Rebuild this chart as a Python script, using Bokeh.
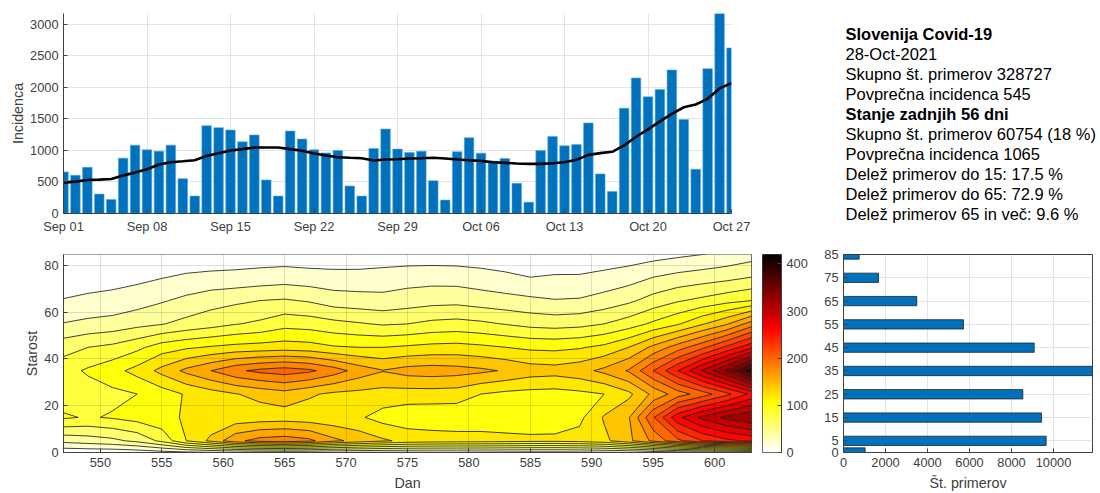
import numpy as np
from bokeh.plotting import figure
from bokeh.layouts import column, row
from bokeh.models import Range1d, FixedTicker, Label, LinearColorMapper
from bokeh.embed import file_html
from bokeh.resources import INLINE

# ---- daily incidence (Sep 01 .. Oct 27)
incidence = [658,605,733,308,223,876,1083,1009,988,1083,552,276,1391,1360,1322,1136,1243,531,276,1306,
             1179,1009,960,998,435,276,1030,1338,1020,966,988,520,212,977,1200,956,830,871,478,180,
             998,1221,1073,1094,1434,627,350,1667,2146,1848,1965,2273,1487,701,2294,3250,2623]
smooth = [489,505,531,536,547,600,648,701,775,813,828,844,913,956,998,1020,1046,1046,1046,1020,
          993,950,919,892,882,876,839,855,860,871,876,882,871,855,844,834,813,802,791,786,
          786,797,813,850,929,956,977,1078,1216,1333,1460,1577,1683,1726,1816,1981,2066]
date_ticks = [0,7,14,21,28,35,42,49,56]
date_labels = ["Sep 01","Sep 08","Sep 15","Sep 22","Sep 29","Oct 06","Oct 13","Oct 20","Oct 27"]

# ---- age x day matrix
days = [547,549,551,553,555,557,559,561,563,565,567,569,571,573,575,577,579,581,583,585,587,589,591,593,595,597,599,601,603]
ages = [0,5,15,25,35,45,55,65,75,85]
z_age0  = [5,6,6,8,12,15,18,20,22,23,22,20,18,17,17,17,17,16,15,14,14,15,17,20,25,30,33,36,40]
z_age5  = [46,50,55,65,85,120,145,175,188,192,185,165,153,143,135,132,130,130,128,126,125,128,135,155,185,215,240,255,265]
z_age15 = [103,98,102,108,115,122,125,127,129,130,128,126,123,112,106,105,105,105,104,104,108,115,142,158,218,275,305,325,338]
z_age25 = [88,90,95,100,110,122,131,139,146,152,143,136,134,132,131,131,130,120,115,113,112,115,120,135,165,190,210,235,265]
z_age35 = [92,103,113,127,146,165,180,196,205,210,204,190,172,161,168,170,168,164,158,150,148,153,165,182,220,260,302,342,400]
z_age45 = [72,80,85,95,110,117,122,126,128,130,128,122,120,120,123,126,127,124,120,116,115,118,125,140,165,190,215,245,275]
z_age55 = [41,45,48,54,59,66,72,79,84,93,91,86,82,78,80,85,87,84,79,74,72,74,80,90,104,118,138,158,190]
z_age65 = [21,24,26,31,38,45,52,56,60,62,58,50,48,46,50,53,54,50,47,44,41,42,48,56,68,78,85,93,100]
z_age75 = [9,11,13,15,19,23,25,26,28,30,28,27,27,29,31,32,31,28,24,20,22,22,26,31,40,46,50,54,60]
z_age85 = [3,3,3,4,5,5,6,7,8,8,7,6,6,7,8,8,8,7,6,4,4,5,6,8,11,15,19,24,30]
day_ticks = [550,555,560,565,570,575,580,585,590,595,600]
age_ticks = [0,20,40,60,80]
cbar_ticks = [0,100,200,300,400]

# ---- cases by age group
group_ages = [0,5,15,25,35,45,55,65,75,85]
group_cases = [1030,9650,9430,8540,11857,9080,5714,3490,1667,746]
case_ticks = [0,2000,4000,6000,8000,10000]

# ---- text panel
info_lines = ["Slovenija Covid-19","28-Oct-2021","Skupno \u0161t. primerov 328727","Povpre\u010dna incidenca 545",
              "Stanje zadnjih 56 dni","Skupno \u0161t. primerov 60754 (18 %)","Povpre\u010dna incidenca 1065",
              "Dele\u017e primerov do 15: 17.5 %","Dele\u017e primerov do 65: 72.9 %","Dele\u017e primerov 65 in ve\u010d: 9.6 %"]
info_bold = [0,4]

FONT = "Liberation Sans"
INK = "#404040"
BLUE = "#0072BD"
GRID = "#e4e4e4"
ZMAX = 420.0

def hot_hex(v):
    t = 1 - v / ZMAX
    r = min(1, t / 0.375)
    g = min(1, max(0, (t - 0.375) / 0.375))
    b = min(1, max(0, (t - 0.75) / 0.25))
    return "#%02x%02x%02x" % (round(r*255), round(g*255), round(b*255))

def style(p, box=True):
    for ax in list(p.xaxis) + list(p.yaxis):
        ax.axis_line_color = INK
        ax.axis_line_width = 1
        ax.major_tick_line_color = INK
        ax.major_tick_in = 4
        ax.major_tick_out = 0
        ax.minor_tick_line_color = None
        ax.major_label_text_font = FONT
        ax.major_label_text_font_size = "12.8px"
        ax.major_label_text_color = INK
        ax.major_label_standoff = 5
        ax.axis_label_text_font = FONT
        ax.axis_label_text_font_size = "14.3px"
        ax.axis_label_text_font_style = "normal"
        ax.axis_label_text_color = INK
    for ax in p.xaxis:
        ax.axis_label_standoff = 5
    for ax in p.yaxis:
        ax.axis_label_standoff = 1
    p.outline_line_color = INK if box else None
    p.background_fill_color = "white"
    p.border_fill_color = "white"
    p.grid.grid_line_color = GRID
    p.grid.grid_line_width = 1

# ---- top: incidence
x = list(range(len(incidence)))
p1 = figure(width=751, height=240, output_backend="svg", toolbar_location=None,
            x_range=Range1d(0, 56), y_range=Range1d(0, 3168),
            min_border_left=63, min_border_right=20, min_border_top=13, min_border_bottom=27)
p1.vbar(x=x, top=incidence, width=0.8, fill_color=BLUE, line_color="#5aa6da", line_width=0.6)
p1.line(x, smooth, line_color="black", line_width=2.6)
p1.xaxis.ticker = FixedTicker(ticks=date_ticks)
p1.xaxis.major_label_overrides = dict(zip(date_ticks, date_labels))
p1.yaxis.ticker = FixedTicker(ticks=[0,500,1000,1500,2000,2500,3000])
p1.yaxis.axis_label = "Incidenca"
style(p1, box=False)

# ---- text panel
pt = figure(width=349, height=240, output_backend="svg", toolbar_location=None,
            x_axis_location=None, y_axis_location=None,
            x_range=Range1d(0, 349), y_range=Range1d(10.35, -1.65),
            min_border_left=0, min_border_right=0, min_border_top=0, min_border_bottom=0)
pt.grid.visible = False
pt.outline_line_color = None
for i, s in enumerate(info_lines):
    pt.add_layout(Label(x=94, y=i, text=s, text_font=FONT, text_font_size="16.5px",
                        text_color="black", text_baseline="middle", text_align="left",
                        text_font_style="bold" if i in info_bold else "normal"))

# ---- contour
Z = np.array([z_age0,z_age5,z_age15,z_age25,z_age35,z_age45,z_age55,z_age65,z_age75,z_age85], dtype=float)
levels = list(range(0, 421, 20))
p2 = figure(width=762, height=253, output_backend="svg", toolbar_location=None,
            x_range=Range1d(547, 603), y_range=Range1d(0, 84.7),
            min_border_left=63, min_border_right=11, min_border_top=14, min_border_bottom=39)
p2.contour(np.array(days, dtype=float), np.array(ages, dtype=float), Z, levels,
           fill_color=[hot_hex(v) for v in levels[:-1]], line_color="#111111", line_width=0.8)
p2.xaxis.ticker = FixedTicker(ticks=day_ticks)
p2.yaxis.ticker = FixedTicker(ticks=age_ticks)
p2.xaxis.axis_label = "Dan"
p2.yaxis.axis_label = "Starost"
style(p2)
p2.grid.level = "overlay"
p2.grid.grid_line_color = "#000000"
p2.grid.grid_line_alpha = 0.13
p2.add_layout(Label(x=600.4, y=88.2, text="2021", text_align="right", text_baseline="middle",
                    text_font=FONT, text_font_size="12.8px", text_color=INK))

# ---- colour bar
pc = figure(width=48, height=253, output_backend="svg", toolbar_location=None,
            x_range=Range1d(0, 1), y_range=Range1d(0, ZMAX), y_axis_location="right",
            min_border_left=0, min_border_right=27, min_border_top=14, min_border_bottom=39)
ramp = np.linspace(0, ZMAX, 256).reshape(-1, 1)
pc.image(image=[ramp], x=0, y=0, dw=1, dh=ZMAX,
         color_mapper=LinearColorMapper(palette=[hot_hex(v) for v in np.linspace(0, ZMAX, 256)], low=0, high=ZMAX))
pc.xaxis.visible = False
pc.yaxis.ticker = FixedTicker(ticks=cbar_ticks)
style(pc)
pc.grid.visible = False

# ---- age bars
p4 = figure(width=290, height=253, output_backend="svg", toolbar_location=None,
            x_range=Range1d(0, 11857), y_range=Range1d(0, 85),
            min_border_left=33, min_border_right=8, min_border_top=14, min_border_bottom=39)
p4.hbar(y=group_ages, right=group_cases, height=4, fill_color=BLUE, line_color="#222222", line_width=0.8)
p4.xaxis.ticker = FixedTicker(ticks=case_ticks)
p4.yaxis.ticker = FixedTicker(ticks=group_ages)
p4.xaxis.axis_label = "\u0160t. primerov"
style(p4)

page = column(row(p1, column(pt), spacing=0), row(p2, pc, p4, spacing=0), spacing=0)
open("out.html", "w").write(file_html(page, INLINE))
